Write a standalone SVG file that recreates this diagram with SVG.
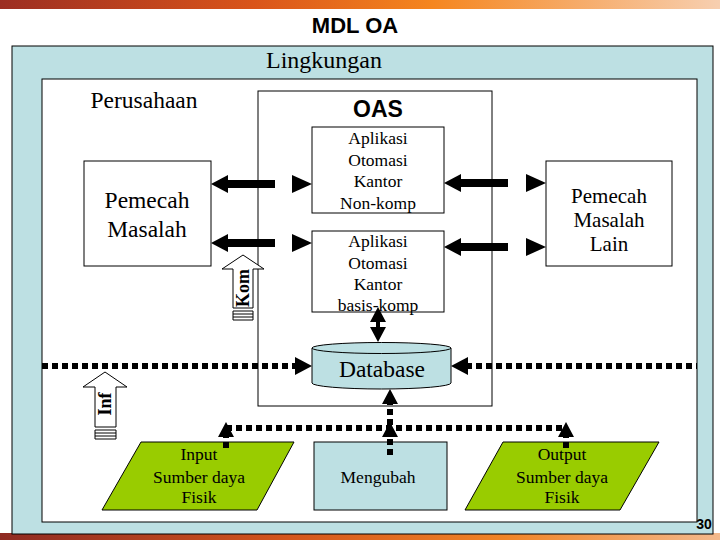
<svg xmlns="http://www.w3.org/2000/svg" width="720" height="540" viewBox="0 0 720 540">
<defs>
<linearGradient id="bar" x1="0" y1="0" x2="1" y2="0">
<stop offset="0" stop-color="#9c2e22"/>
<stop offset="0.35" stop-color="#d9541a"/>
<stop offset="0.6" stop-color="#f5861f"/>
<stop offset="1" stop-color="#f7cfb0"/>
</linearGradient>
<linearGradient id="bar2" x1="0" y1="0" x2="1" y2="0">
<stop offset="0" stop-color="#8e2a22"/>
<stop offset="0.4" stop-color="#d4561c"/>
<stop offset="0.7" stop-color="#f08426"/>
<stop offset="1" stop-color="#f3b98c"/>
</linearGradient>
<style>
.serif{font-family:"Liberation Serif","Times New Roman",serif;fill:#000}
.sans{font-family:"Liberation Sans",Arial,sans-serif;font-weight:bold;fill:#000}
.box{fill:#fff;stroke:#000;stroke-width:1}
.blue{fill:#bde0e3;stroke:#000;stroke-width:1}
.green{fill:#99cc00;stroke:#000;stroke-width:1}
.thick{stroke:#000;stroke-width:8;fill:none}
.dot{stroke:#000;stroke-width:6;stroke-dasharray:6 4;fill:none}
.head{fill:#000}
.hollow{fill:#fff;stroke:#000;stroke-width:1}
.stripe{stroke:#000;stroke-width:1}
</style>
</defs>
<rect x="0" y="0" width="720" height="9" fill="url(#bar)"/>
<rect x="0" y="533" width="720" height="7" fill="url(#bar2)"/>
<text class="sans" x="355" y="33" font-size="22" text-anchor="middle">MDL OA</text>
<g id="lingkungan">
<rect x="12" y="46" width="701" height="488" class="blue"/>
<text class="serif" x="324" y="68" font-size="24" text-anchor="middle">Lingkungan</text>
</g>
<g id="perusahaan">
<rect x="42" y="79" width="655" height="443" class="box"/>
<text class="serif" x="144" y="108" font-size="23.5" text-anchor="middle">Perusahaan</text>
</g>
<g id="oas">
<rect x="258" y="91" width="234" height="315" class="box"/>
<text class="sans" x="378" y="117" font-size="23" text-anchor="middle">OAS</text>
</g>
<g id="aok-nonkomp">
<rect x="312" y="127" width="132" height="86" class="box"/>
<text class="serif" font-size="17.5" text-anchor="middle"><tspan x="378" y="144">Aplikasi</tspan><tspan x="378" y="166">Otomasi</tspan><tspan x="378" y="187">Kantor</tspan><tspan x="378" y="209">Non-komp</tspan></text>
</g>
<g id="aok-basiskomp">
<rect x="312" y="231" width="132" height="81" class="box"/>
<text class="serif" font-size="17.5" text-anchor="middle"><tspan x="378" y="247">Aplikasi</tspan><tspan x="378" y="269">Otomasi</tspan><tspan x="378" y="290">Kantor</tspan><tspan x="378" y="311">basis-komp</tspan></text>
</g>
<g id="pemecah-masalah">
<rect x="84" y="161" width="127" height="105" class="box"/>
<text class="serif" font-size="23.5" text-anchor="middle"><tspan x="147" y="208">Pemecah</tspan><tspan x="147" y="237">Masalah</tspan></text>
</g>
<g id="pemecah-masalah-lain">
<rect x="546" y="161" width="126" height="105" class="box"/>
<text class="serif" font-size="21" text-anchor="middle"><tspan x="609" y="203">Pemecah</tspan><tspan x="609" y="227">Masalah</tspan><tspan x="609" y="251">Lain</tspan></text>
</g>
<g id="database">
<path d="M312,348 L312,383 A69.5,6 0 0 0 451,383 L451,348" class="blue"/>
<ellipse cx="381.5" cy="348" rx="69.5" ry="5.5" class="blue"/>
<text class="serif" x="382" y="377" font-size="23.5" text-anchor="middle">Database</text>
</g>
<g id="input">
<polygon points="141,442 294,442 257,510 102,510" class="green"/>
<text class="serif" font-size="17.5" text-anchor="middle"><tspan x="199" y="460">Input</tspan><tspan x="199" y="483">Sumber daya</tspan><tspan x="199" y="503">Fisik</tspan></text>
</g>
<g id="mengubah">
<rect x="314" y="442" width="133" height="68" class="blue"/>
<text class="serif" x="378" y="483" font-size="17.5" text-anchor="middle">Mengubah</text>
</g>
<g id="output">
<polygon points="503,442 659,442 620,510 465,510" class="green"/>
<text class="serif" font-size="17.5" text-anchor="middle"><tspan x="562" y="460">Output</tspan><tspan x="562" y="483">Sumber daya</tspan><tspan x="562" y="503">Fisik</tspan></text>
</g>
<g id="connectors">
<line x1="225" y1="184" x2="275" y2="184" class="thick"/>
<polygon points="211,184 228,175 228,193" class="head"/>
<polygon points="312,184 292,175 292,193" class="head"/>
<line x1="225" y1="243" x2="275" y2="243" class="thick"/>
<polygon points="211,243 228,234 228,252" class="head"/>
<polygon points="312,243 292,234 292,252" class="head"/>
<line x1="458" y1="183" x2="508" y2="183" class="thick"/>
<polygon points="444,183 461,174 461,192" class="head"/>
<polygon points="546,183 526,174 526,192" class="head"/>
<line x1="458" y1="247" x2="508" y2="247" class="thick"/>
<polygon points="444,247 461,238 461,256" class="head"/>
<polygon points="546,247 526,238 526,256" class="head"/>
<line x1="378" y1="318" x2="378" y2="332" stroke="#000" stroke-width="4"/>
<polygon points="378,307 370,322 386,322" class="head"/>
<polygon points="378,342 370,327 386,327" class="head"/>
<line x1="42" y1="366" x2="298" y2="366" class="dot"/>
<polygon points="312,366 295,357 295,375" class="head"/>
<line x1="466" y1="366" x2="697" y2="366" class="dot"/>
<polygon points="451,366 468,357 468,375" class="head"/>
<line x1="390" y1="455" x2="390" y2="402" class="dot"/>
<polygon points="390,389 382,404 398,404" class="head"/>
<line x1="226" y1="428" x2="566" y2="428" class="dot"/>
<line x1="226" y1="448" x2="226" y2="436" class="dot"/>
<polygon points="226,422 218,437 234,437" class="head"/>
<polygon points="390,422 382,437 398,437" class="head"/>
<line x1="566" y1="448" x2="566" y2="436" class="dot"/>
<polygon points="566,422 558,437 574,437" class="head"/>
</g>
<g id="kom">
<polygon points="243,255 264,269 253,269 253,308 233,308 233,269 222,269" class="hollow"/>
<path d="M233,311 H253 M233,314 H253 M233,317 H253 M233,320 H253 M233,311 V320 M253,311 V320" class="stripe" fill="none"/>
<text class="serif" font-weight="bold" font-size="18" text-anchor="middle" transform="translate(249,288) rotate(-90)">Kom</text>
</g>
<g id="inf">
<polygon points="105,372 127,387 116,387 116,427 95,427 95,387 83,387" class="hollow"/>
<path d="M95,430 H116 M95,433 H116 M95,436 H116 M95,439 H116 M95,430 V439 M116,430 V439" class="stripe" fill="none"/>
<text class="serif" font-weight="bold" font-size="18" text-anchor="middle" transform="translate(111,404) rotate(-90)">Inf</text>
</g>
<text class="sans" x="704" y="529" font-size="14" text-anchor="middle">30</text>
</svg>
